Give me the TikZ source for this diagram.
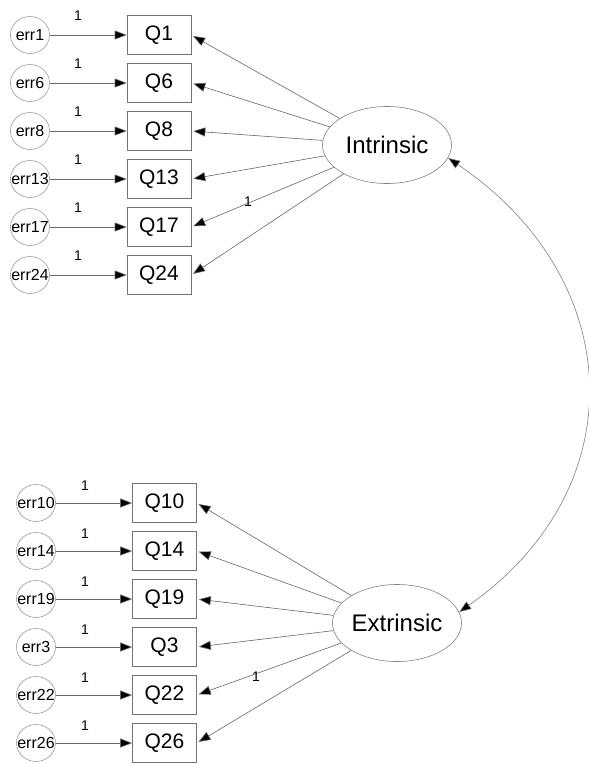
\documentclass[tikz,border=0pt]{standalone}
\usepackage{fontspec}
\setmainfont{Liberation Sans}
\usetikzlibrary{arrows.meta,shapes.geometric}
\begin{document}
\begin{tikzpicture}[x=1pt,y=1pt,
  every node/.style={inner sep=0pt},
  obs/.style={draw=black!55, line width=0.6pt, minimum width=64pt, minimum height=39pt,
    font=\fontsize{21}{24}\selectfont},
  errv/.style={ellipse, draw=black!45, line width=0.5pt, minimum width=39pt, minimum height=37pt,
    font=\fontsize{16}{18}\selectfont},
  lat/.style={ellipse, draw=black!50, line width=0.6pt, minimum width=129pt, minimum height=77pt,
    font=\fontsize{24}{28}\selectfont},
  arr/.style={draw=black!60, line width=0.6pt, -{Triangle[length=12pt,width=9pt,fill=black]}},
  cov/.style={draw=black!50, line width=0.6pt,
    {Triangle[length=12pt,width=9pt,fill=black]}-{Triangle[length=12pt,width=9pt,fill=black]}},
  wt/.style={font=\fontsize{14}{16}\selectfont}
]
\useasboundingbox (0,0) rectangle (589,-764);

% first factor: indicators with their error terms
\foreach \n/\r in {1/0,6/1,8/2,13/3,17/4,24/5} {
  \pgfmathsetmacro\yy{-35-48*\r}
  \node[obs] (q\n) at (159,\yy) {Q\n};
  \node[errv] (e\n) at (30,\yy) {\makebox[0pt]{err\n}};
  \node[wt] (w\n) at (78,\yy+19) {1};
  \draw[arr] (e\n) -- (q\n);
}
\node[lat] (I) at (387,-145) {Intrinsic};
\foreach \n in {1,6,8,13,17,24}
  \draw[arr, shorten >=2pt] (I) -- (q\n.east);
\node[wt] (wI) at (248,-202) {1};

% second factor: indicators with their error terms
\foreach \n/\r in {10/0,14/1,19/2,3/3,22/4,26/5} {
  \pgfmathsetmacro\yy{-503-48*\r}
  \node[obs] (q\n) at (164.5,\yy) {Q\n};
  \node[errv] (e\n) at (36,\yy) {\makebox[0pt]{err\n}};
  \node[wt] (w\n) at (85,\yy+17) {1};
  \draw[arr] (e\n) -- (q\n);
}
\node[lat] (E) at (397,-623) {Extrinsic};
\foreach \n in {10,14,19,3,22,26}
  \draw[arr, shorten >=2pt] (E) -- (q\n.east);
\node[wt] (wE) at (256,-677) {1};

% covariance between the two factors
\draw[cov] (I.-12) to[out=-34,in=35,distance=216pt] (E.10);
\end{tikzpicture}
\end{document}
